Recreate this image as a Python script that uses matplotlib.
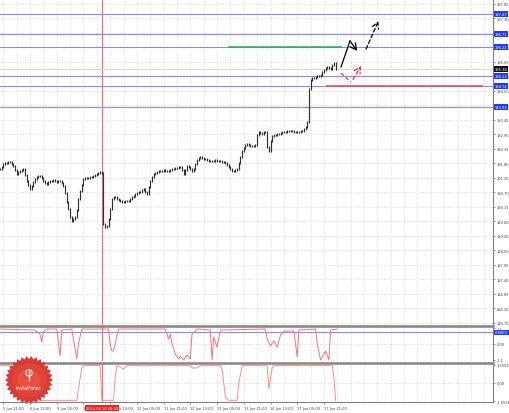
import numpy as np
import matplotlib
matplotlib.use("Agg")
import matplotlib.pyplot as plt
from matplotlib.lines import Line2D
from matplotlib.patches import Polygon

plt.rcParams['font.family'] = ['DejaVu Sans']

# ---------------- data ----------------
# hourly closes, bar index 0 = 5 Jun 21:00
bar_start = -2
closes = [
    191.59, 191.67, 191.78, 191.82, 191.82, 191.86, 191.86, 191.78, 191.70, 191.55,
    191.40, 191.48, 191.52, 191.55, 191.59, 191.36, 191.14, 190.99, 190.83, 190.95,
    191.10, 191.21, 191.29, 191.33, 191.33, 191.25, 191.14, 191.06, 191.02, 191.10,
    191.14, 191.14, 191.17, 191.14, 191.10, 191.14, 191.14, 191.06, 190.95, 190.68,
    190.34, 190.07, 189.77, 189.62, 189.70, 189.77, 190.04, 190.45, 190.76, 190.99,
    191.21, 191.25, 191.25, 191.25, 191.29, 191.29, 191.33, 191.36, 191.40, 191.44,
    191.48, 191.44, 189.50, 189.39, 189.43, 189.70, 190.07, 190.45, 190.53, 190.53,
    190.45, 190.42, 190.38, 190.34, 190.34, 190.38, 190.38, 190.38, 190.45, 190.53,
    190.57, 190.64, 190.68, 190.72, 190.72, 190.79, 190.83, 190.72, 190.64, 190.91,
    191.14, 191.29, 191.40, 191.44, 191.48, 191.52, 191.52, 191.52, 191.55, 191.52,
    191.52, 191.52, 191.55, 191.59, 191.59, 191.63, 191.63, 191.67, 191.67, 191.55,
    191.40, 191.55, 191.70, 191.67, 191.59, 191.52, 191.59, 191.78, 191.93, 192.01,
    192.05, 192.01, 191.97, 191.97, 191.93, 191.90, 191.90, 191.90, 191.90, 191.93,
    191.90, 191.90, 191.90, 191.86, 191.86, 191.82, 191.74, 191.67, 191.59, 191.52,
    191.52, 191.55, 191.59, 191.82, 192.05, 192.27, 192.39, 192.50, 192.54, 192.50,
    192.46, 192.46, 192.46, 192.50, 192.88, 192.99, 192.96, 192.92, 192.99, 192.99,
    192.43, 192.27, 192.65, 192.84, 192.88, 192.88, 192.92, 192.92, 192.96, 192.99,
    192.99, 192.99, 193.03, 193.03, 193.03, 193.03, 192.99, 192.99, 192.99, 192.99,
    193.03, 193.03, 193.11, 193.18, 193.37, 194.63, 194.97, 195.04, 195.04, 195.08,
    195.12, 195.12, 195.16, 195.27, 195.34, 195.42, 195.46, 195.42, 195.38, 195.54,
    195.61, 195.38,
]

price_ticks = [185.75 + 0.55 * k for k in range(23)]
level_prices = [197.47, 196.71, 196.22, 195.12, 194.74, 193.94]
level_labels = ["197.47", "196.71", "196.22", "195.12", "194.74", "193.94"]
current_price = 195.38

time_tick_index = list(range(0, 193, 16))
time_labels = ["5 Jun 21:00", "6 Jun 13:00", "9 Jun 05:00", "9 Jun 21:00", "10 Jun 13:00",
               "11 Jun 05:00", "11 Jun 21:00", "12 Jun 13:00", "13 Jun 05:00", "13 Jun 21:00",
               "16 Jun 13:00", "17 Jun 05:00", "17 Jun 21:00"]
event_index = 59
event_label = "2014.06.10 08:00"

# drawn objects (bar index, price)
green_seg = ([134.5, 202.8], [196.22, 196.22])
red_seg = ([193, 287], [194.74, 194.74])
black_solid = ([202.2, 207.6, 211.8], [195.46, 196.45, 196.07])
black_dash = ([217.2, 224.6], [196.14, 197.20])
red_dash = ([202.2, 208.2, 209.4, 214.2], [195.23, 194.89, 194.99, 195.50])

# indicator 1 (vertices)
ind1_x = [-2, 19, 22, 23, 24, 26, 32, 34, 35, 41, 42, 44, 45, 47, 63, 64, 65, 66, 68, 69,
          97, 99, 100, 101, 103, 105, 106, 108, 110, 112, 113, 115, 116, 124, 125, 126, 128, 130,
          157, 158, 160, 162, 164, 166, 168, 174, 175, 176, 177, 187, 188, 190, 192, 193, 195, 196, 200]
ind1_y = [1.03, 0.96, 0.69, 0.14, 0.83, 1.03, 1.03, -0.83, 0.96, 1.03, 0.34, -1.03, 0.0, 1.03,
          1.03, 0.0, -0.48, -0.48, 0.55, 1.03,
          1.03, 0.34, 0.69, 0.0, -0.69, -1.03, -0.83, -1.10, -0.76, -1.03, 0.69, 0.89, 1.03,
          0.96, -1.10, 0.48, -0.21, 0.96,
          1.03, 0.34, -0.14, 0.21, -0.21, 0.62, 0.89, 0.89, 0.0, -0.89, 0.96,
          1.03, 0.0, -1.10, -0.69, -0.48, -1.10, 0.96, 1.03]
ind1_level = 0.80

# indicator 2 (vertices)
ind2_x = [-2, 4, 5, 7, 10, 44, 45, 47, 48, 58, 59, 66, 67, 68, 71, 72, 74, 112, 113, 116, 118,
          130, 131, 132, 133, 135, 140, 141, 143, 158, 159, 161, 162, 197, 198, 199]
ind2_y = [1.5, 1.5, 1.0, -0.8, -1.5, -1.5, -0.5, 1.3, 1.5, 1.5, -1.5, -1.5, 0.5, 1.5, 1.3, 1.2, 1.5,
          1.5, 1.3, 1.3, 1.5, 1.5, 1.2, 0.0, -1.2, -1.5, -1.5, 0.0, 1.5, 1.5, -0.5, 1.3, 1.5,
          1.5, 0.5, -1.5]

# ---------------- figure ----------------
W, H = 510, 414
fig = plt.figure(figsize=(W / 100, H / 100), dpi=100)
fig.patch.set_facecolor('white')


def fy(p):
    return 1 - p / H


def fx(p):
    return p / W


px_per_bar = 1.67
xmin = -3.3 / px_per_bar
xmax = (493 - 3.3) / px_per_bar

ax = fig.add_axes([0, fy(326), 493 / W, 326 / H])
ax1 = fig.add_axes([0, fy(362), 493 / W, 34 / H])
ax2 = fig.add_axes([0, fy(403), 493 / W, 38 / H])

grid_color = '#d4d4d4'
txt_color = '#404040'
fs = 2.6
grid_x = np.arange(0, xmax, 8)
blue = '#8a8af2'

for a in (ax, ax1, ax2):
    a.set_xlim(xmin, xmax)
    a.set_facecolor('white')
    for s in ('left', 'top', 'bottom'):
        a.spines[s].set_visible(False)
    a.spines['right'].set_color('#808080')
    a.spines['right'].set_linewidth(0.8)
    a.yaxis.tick_right()
    a.tick_params(axis='y', labelsize=fs, length=1.2, pad=1.2, colors=txt_color, width=0.4)
    a.set_xticks([])
    a.vlines(grid_x, -1000, 1000, colors=grid_color, linestyles=(0, (2, 2)), lw=0.5, zorder=0)
    a.axvline(event_index, color='#ff6a6a', lw=0.8, zorder=1)

# main panel
ax.set_ylim(185.674, 198.039)
ax.set_yticks(price_ticks)
ax.set_yticklabels([f"{p:.2f}" for p in price_ticks])
for p in price_ticks:
    ax.axhline(p, color=grid_color, ls=(0, (2, 2)), lw=0.5, zorder=0)

for p in level_prices:
    ax.axhline(p, color=blue, lw=0.8, zorder=2)
ax.axhline(current_price, color='#d8d8d8', lw=0.8, zorder=1)

idx = np.arange(bar_start, bar_start + len(closes))
c = np.array(closes)
prev = np.r_[c[0], c[:-1]]
lo = np.minimum(prev, c) - 0.05
hi = np.maximum(prev, c) + 0.05
ax.vlines(idx, lo, hi, colors='#303030', lw=0.85, zorder=3)

ax.plot(*green_seg, color='#22b14c', lw=1.1, zorder=4, solid_capstyle='butt')
ax.plot(*red_seg, color='#f04848', lw=1.1, zorder=4, solid_capstyle='butt')

# drawn arrows
ap = dict(arrowstyle='->,head_length=0.55,head_width=0.3', lw=0.9, shrinkA=0, shrinkB=0,
          mutation_scale=8)
ax.plot(black_solid[0][:2], black_solid[1][:2], color='black', lw=0.9, zorder=5)
ax.annotate('', xy=(black_solid[0][2], black_solid[1][2]),
            xytext=(black_solid[0][1], black_solid[1][1]),
            arrowprops=dict(ap, color='black'), zorder=5)
ax.annotate('', xy=(black_dash[0][1], black_dash[1][1]),
            xytext=(black_dash[0][0], black_dash[1][0]),
            arrowprops=dict(ap, color='black', ls=(0, (3, 2))), zorder=5)
ax.plot(red_dash[0][:2], red_dash[1][:2], color='#f03030', lw=0.9, ls=(0, (3, 2)), zorder=5)
ax.annotate('', xy=(red_dash[0][3], red_dash[1][3]),
            xytext=(red_dash[0][2], red_dash[1][2]),
            arrowprops=dict(ap, color='#f03030', ls=(0, (3, 2))), zorder=5)

ytr = ax.get_yaxis_transform()
box = dict(boxstyle='square,pad=0.2', ec='none')
for p, t in zip(level_prices, level_labels):
    ax.text(1.004, p, t, transform=ytr, fontsize=fs, color='white', va='center', ha='left',
            bbox=dict(box, fc='#1e3cff'), zorder=10, clip_on=False)
ax.text(1.004, current_price, f"{current_price:.2f}", transform=ytr, fontsize=fs, color='white',
        va='center', ha='left', bbox=dict(box, fc='#111111'), zorder=10, clip_on=False)

# indicator 1
ax1.set_ylim(-1.169, 1.169)
ax1.set_yticks([1.1, 0.0, -1.1])
ax1.set_yticklabels(['1.1', '0.00', '-1.1'])
ax1.axhline(0, color=grid_color, ls=(0, (2, 2)), lw=0.5, zorder=0)
ax1.axhline(ind1_level, color=blue, lw=0.8, zorder=2)
ax1.plot(ind1_x, ind1_y, color='#ff7070', lw=0.7, zorder=3)
ax1.text(1.004, ind1_level, f"{ind1_level:.4f}", transform=ax1.get_yaxis_transform(), fontsize=fs,
         color='white', va='center', ha='left', bbox=dict(box, fc='#1e3cff'), zorder=10,
         clip_on=False)

# indicator 2
ax2.set_ylim(-1.642, 1.642)
ax2.set_yticks([1.5556, 0.0, -1.5556])
ax2.set_yticklabels(['1.5556', '0.00', '-1.5556'])
ax2.axhline(0, color=grid_color, ls=(0, (2, 2)), lw=0.5, zorder=0)
ax2.plot(ind2_x, ind2_y, color='#ff8a8a', lw=0.7, zorder=3)
ax2.spines['bottom'].set_visible(True)
ax2.spines['bottom'].set_color('#808080')
ax2.spines['bottom'].set_linewidth(0.8)
ax2.set_xticks(time_tick_index)
ax2.set_xticklabels(time_labels)
ax2.tick_params(axis='x', labelsize=fs, length=1.5, pad=1.5, colors=txt_color, width=0.4)
for lab in ax2.get_xticklabels():
    lab.set_ha('left')
ax2.text(event_index, -0.15, event_label, transform=ax2.get_xaxis_transform(), fontsize=fs,
         color='white', ha='center', va='center',
         bbox=dict(boxstyle='square,pad=0.3', fc='#ff1a1a', ec='none'), zorder=10, clip_on=False)

# separators
for yy in (327.2, 363.6):
    fig.add_artist(Line2D([0, 493 / W], [fy(yy), fy(yy)], transform=fig.transFigure,
                          color='#8a8a8a', lw=1.9, zorder=6))

# InstaForex logo
cx, cy, R, r, n = 29, 381, 24.0, 21.0, 30
ang = np.linspace(0, 2 * np.pi, 2 * n, endpoint=False)
rad = np.where(np.arange(2 * n) % 2 == 0, R, r)
pts = np.column_stack([fx(cx + rad * np.cos(ang)), fy(cy + rad * np.sin(ang))])
fig.add_artist(Polygon(pts, closed=True, transform=fig.transFigure, fc='#d7322c', ec='none',
                       alpha=0.95, zorder=20))
for rr, col, al in ((17, '#e4463a', 0.8), (11, '#ee5a48', 0.6)):
    t = np.linspace(0, 2 * np.pi, 60)
    cp = np.column_stack([fx(cx + rr * np.cos(t)), fy(cy + rr * np.sin(t))])
    fig.add_artist(Polygon(cp, closed=True, transform=fig.transFigure, fc=col, ec='none',
                           alpha=al, zorder=21))
t = np.linspace(0, 2 * np.pi, 40)
ring = np.column_stack([fx(cx + 3.2 * np.cos(t)), fy(374 + 3.2 * np.sin(t))])
fig.add_artist(Polygon(ring, closed=True, transform=fig.transFigure, fc='none', ec='white',
                       lw=0.7, zorder=22))
fig.add_artist(Line2D([fx(cx), fx(cx)], [fy(372), fy(381)], transform=fig.transFigure,
                      color='white', lw=0.9, zorder=22))
fig.text(fx(cx), fy(389), 'InstaForex', color='white', fontsize=3.6, ha='center', va='center',
         zorder=23)

fig.savefig('out.png', dpi=100, facecolor='white')
